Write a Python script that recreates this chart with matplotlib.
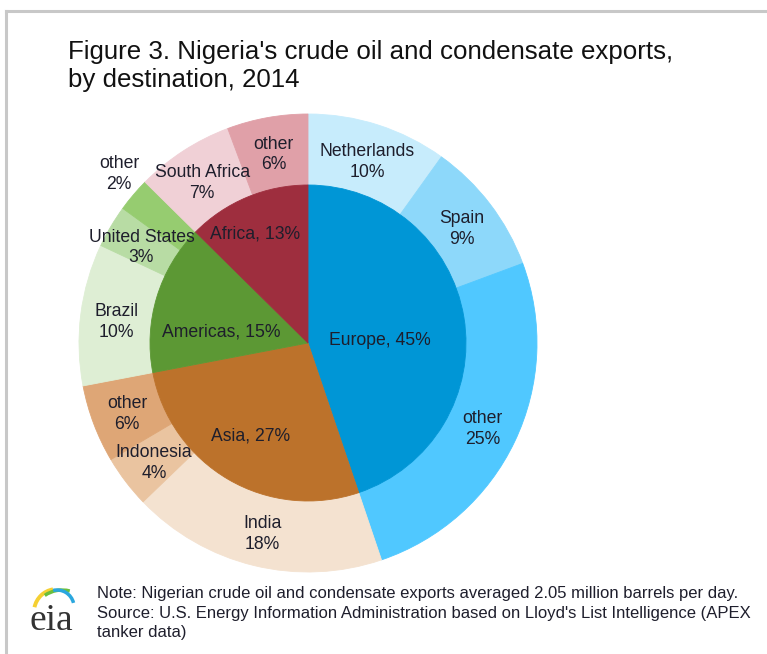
import matplotlib.pyplot as plt
import numpy as np
from matplotlib.patches import Arc
from matplotlib.transforms import offset_copy

plt.rcParams['font.family'] = ['Liberation Sans', 'DejaVu Sans']

# inner ring: regions (percent of exports)
regions = ['Europe', 'Asia', 'Americas', 'Africa']
region_share = [44.8, 27.2, 15.4, 12.6]
region_colors = ['#0096d6', '#bc722b', '#5c9834', '#9e2e3e']

# outer ring: destinations
dest_names = ['Netherlands', 'Spain', 'other', 'India', 'Indonesia', 'other',
              'Brazil', 'United States', 'other', 'South Africa', 'other']
dest_share = [9.9, 9.45, 25.45, 18.0, 3.7, 5.5, 10.0, 3.0, 2.4, 6.9, 5.7]
dest_colors = ['#c7ecfc', '#8dd8fa', '#50c8ff', '#f4e2d0', '#eac4a0', '#dea676',
               '#deeed4', '#b8dca4', '#96cc70', '#f0d0d6', '#e0a0a8']

title = "Figure 3. Nigeria's crude oil and condensate exports,\nby destination, 2014"
note = ("Note: Nigerian crude oil and condensate exports averaged 2.05 million barrels per day.\n"
        "Source: U.S. Energy Information Administration based on Lloyd's List Intelligence (APEX\n"
        "tanker data)")

# label placement: (radius, angle nudge in degrees, counterclockwise)
inner_layout = [(0.315, -5.4), (0.47, -2.3), (0.384, 8.4), (0.537, 2.8)]
outer_layout = [(0.845, 0)] * 8 + [(1.115, -2)] + [(0.85, 0)] * 2

W, H = 767, 654
fig = plt.figure(figsize=(W / 100, H / 100), dpi=100)

# frame lines (top and left)
fig.add_artist(plt.Line2D([6 / W, 1], [1 - 11 / H, 1 - 11 / H], color='#c8c8c8', lw=2.2))
fig.add_artist(plt.Line2D([6 / W, 6 / W], [0, 1 - 11 / H], color='#c8c8c8', lw=2.2))

fig.text(68 / W, 1 - 40 / H, title, fontsize=18.6, va='top', ha='left',
         color='#111111', linespacing=1.2)

cx, cy, R = 308, 343, 229
ax = fig.add_axes([(cx - R) / W, 1 - (cy + R) / H, 2 * R / W, 2 * R / H])

text_color = '#1e1e2c'
r_in = 158 / R

wo, _ = ax.pie(dest_share, colors=dest_colors, radius=1, startangle=90,
               counterclock=False, wedgeprops=dict(width=1 - r_in, linewidth=0.6))
wi, _ = ax.pie(region_share, colors=region_colors, radius=r_in, startangle=90,
               counterclock=False, wedgeprops=dict(linewidth=0.6))
for w in list(wo) + list(wi):
    w.set_edgecolor(w.get_facecolor())

ax.set_xlim(-1, 1)
ax.set_ylim(-1, 1)
ax.axis('off')


def mid_angles(shares):
    cum = np.cumsum([0] + list(shares))
    return [(cum[i] + cum[i + 1]) / 2 / sum(shares) * 360 for i in range(len(shares))]


for name, share, ang, (r, nudge) in zip(regions, region_share, mid_angles(region_share), inner_layout):
    a = np.radians(90 - (ang - nudge))
    ax.text(r * np.cos(a), r * np.sin(a), f'{name}, {share:.0f}%', ha='center',
            va='center_baseline', fontsize=12.7, color=text_color)

outer_tr = offset_copy(ax.transData, fig=fig, x=0, y=-3, units='dots')
for name, share, ang, (r, nudge) in zip(dest_names, dest_share, mid_angles(dest_share), outer_layout):
    a = np.radians(90 - (ang - nudge))
    ax.text(r * np.cos(a), r * np.sin(a), f'{name}\n{share:.0f}%', ha='center', va='center',
            fontsize=12.7, color=text_color, linespacing=1.3, transform=outer_tr)

fig.text(97 / W, 1 - 586 / H, note, fontsize=12, va='top', ha='left',
         color='#1e1e2c', linespacing=1.38)

# eia logo
lax = fig.add_axes([22 / W, 1 - 640 / H, 60 / W, 60 / H])
lax.set_xlim(0, 60)
lax.set_ylim(0, 60)
lax.axis('off')
lax.add_patch(Arc((35, 28), 46, 46, theta1=100, theta2=168, color='#f5d033', lw=2.8))
lax.add_patch(Arc((40, 20), 60, 60, theta1=75, theta2=125, color='#6cbf3c', lw=2.5))
lax.add_patch(Arc((35, 33), 34, 34, theta1=14, theta2=103, color='#2aa7de', lw=2.5))
lax.text(29.5, 19, 'eia', family=['Liberation Serif', 'DejaVu Serif'], fontsize=27,
         ha='center', va='center', color='#333333')

fig.savefig('out.png', dpi=100)
